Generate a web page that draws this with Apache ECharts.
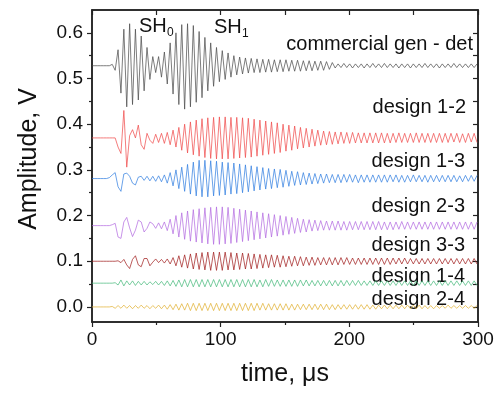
<!DOCTYPE html>
<html>
<head>
<meta charset="utf-8">
<title>Amplitude vs time</title>
<script src="https://cdn.jsdelivr.net/npm/echarts@6/dist/echarts.min.js"></script>
<style>
  html, body { margin: 0; padding: 0; background: #fff; }
  #chart { width: 500px; height: 394px; }
</style>
</head>
<body>
<div id="chart"></div>
<script>
// sample step of the traces, µs (sample i is at i * timeStep)
const timeStep = 2.25

// trace names, baselines (V) and colours
const traceNames = ['commercial gen - det', 'design 1-2', 'design 1-3', 'design 2-3', 'design 3-3', 'design 1-4', 'design 2-4']
const baselines = [0.528, 0.370, 0.281, 0.178, 0.100, 0.052, 0.000]
const colors = ['#4a4a4a', '#f04848', '#2f7ee0', '#b36ae0', '#a01c1c', '#45b97a', '#e0b030']

// deviation from baseline, mV
const commercial = [
  0, 0, 0, 0, 0, 0, 0, 3, -10, 35,
  -60, 80, -90, 92, -85, 80, -75, 65, -55, 40,
  -30, 20, -15, 20, -25, 30, -40, 50, -62, 72,
  -85, 90, -95, 92, -90, 88, -80, 75, -70, 62,
  -55, 50, -45, 40, -35, 33, -30, 28, -25, 22,
  -20, 19, -18, 17, -16, 16, -15, 15, -15, 14,
  -14, 14, -14, 13, -13, 13, -13, 13, -12, 12,
  -12, 12, -12, 11, -11, 11, -11, 10, -10, 10,
  -10, 9, -8, 7, -5, 4, -4, 5, -4, 4,
  -5, 4, -4, 4, -5, 4, -4, 5, -4, 4,
  -4, 5, -4, 4, -4, 4, -5, 4, -4, 4,
  -5, 4, -4, 4, -4, 5, -4, 4, -4, 4,
  -5, 4, -4, 4, -4, 5, -4, 4, -4, 4,
  -4, 4, -4, 4
]
const design12 = [
  0, 0, 0, 0, 0, 0, 0, 0, 0, -20,
  -34, 60, -64, 5, 18, 0, 28, -15, -25, 10,
  -5, -12, 8, -10, 10, -12, 12, -15, 17, -20,
  23, -27, 30, -33, 35, -37, 39, -40, 42, -43,
  44, -45, 45, -46, 46, -46, 46, -46, 45, -45,
  45, -44, 44, -43, 43, -42, 41, -40, 39, -38,
  37, -36, 35, -34, 33, -32, 30, -29, 28, -27,
  26, -24, 23, -22, 21, -20, 19, -18, 17, -16,
  15, -15, 14, -14, 13, -13, 13, -12, 12, -12,
  12, -11, 11, -11, 11, -11, 11, -11, 11, -11,
  11, -11, 10, -11, 10, -10, 11, -10, 10, -10,
  10, -10, 11, -10, 10, -10, 10, -10, 10, -10,
  10, -10, 10, -10, 10, -9, 10, -10, 9, -10,
  10, -9, 10, -10
]
const design13 = [
  0, 0, 0, 0, 0, 0, 2, 8, 13, -18,
  -28, 10, 12, 5, -10, -14, 3, 5, -4, 5,
  -5, 5, -6, 6, -7, 8, -10, 13, -16, 19,
  -22, 25, -28, 31, -34, 36, -38, 40, -40, 40,
  -40, 39, -38, 38, -37, 36, -36, 35, -34, 34,
  -33, 32, -31, 30, -29, 28, -27, 26, -25, 24,
  -23, 22, -22, 21, -20, 20, -19, 18, -17, 16,
  -15, 15, -14, 13, -13, 12, -12, 11, -11, 10,
  -10, 10, -9, 9, -9, 9, -9, 9, -8, 9,
  -8, 8, -9, 8, -8, 8, -8, 8, -8, 8,
  -8, 8, -8, 8, -7, 8, -8, 7, -8, 7,
  -7, 8, -7, 7, -7, 7, -8, 7, -7, 7,
  -7, 7, -7, 7, -7, 7, -7, 6, -7, 7,
  -6, 7, -6, 7
]
const design23 = [
  0, 0, 0, 0, 0, 0, 0, 2, 5, -25,
  -28, 8, 18, -5, -24, -10, 12, 8, -14, -6,
  8, 4, -6, 6, -7, 8, -11, 14, -18, 22,
  -25, 28, -30, 32, -34, 35, -36, 37, -38, 39,
  -40, 40, -41, 41, -41, 41, -40, 40, -39, 38,
  -37, 36, -35, 34, -33, 32, -31, 30, -29, 28,
  -27, 26, -25, 24, -23, 22, -21, 20, -19, 18,
  -17, 16, -15, 14, -14, 13, -12, 12, -11, 11,
  -10, 10, -10, 10, -10, 10, -10, 9, -10, 9,
  -9, 9, -9, 9, -9, 9, -9, 9, -9, 9,
  -9, 8, -9, 8, -9, 8, -8, 9, -8, 8,
  -8, 8, -8, 8, -8, 8, -8, 8, -8, 8,
  -8, 8, -8, 8, -8, 8, -8, 8, -8, 8,
  -8, 8, -8, 8
]
const design33 = [
  0, 0, 0, 0, 0, 0, 0, 0, 0, 1,
  -3, 4, -8, -16, 4, 12, -8, -12, 6, 6,
  -10, -2, 5, -3, 4, -4, 5, -6, 8, -10,
  12, -13, 14, -15, 16, -17, 18, -18, 19, -19,
  20, -20, 20, -20, 20, -20, 20, -19, 19, -19,
  18, -18, 18, -17, 17, -17, 16, -16, 15, -15,
  14, -14, 14, -13, 13, -13, 12, -12, 11, -11,
  11, -10, 10, -10, 9, -9, 9, -9, 8, -8,
  8, -8, 8, -8, 8, -8, 8, -7, 8, -7,
  7, -7, 7, -7, 7, -7, 7, -7, 7, -7,
  7, -7, 7, -7, 7, -6, 7, -6, 7, -6,
  6, -6, 6, -6, 6, -6, 6, -6, 6, -6,
  6, -6, 6, -6, 6, -6, 6, -6, 6, -6,
  6, -6, 6, -6
]
const design14 = [
  0, 0, 0, 0, 0, 0, 0, 0, 1, -4,
  7, -6, 5, -4, 5, -5, 4, -4, 4, -4,
  3, -3, 4, -4, 4, -5, 5, -6, 6, -7,
  7, -8, 8, -8, 8, -8, 8, -8, 8, -8,
  8, -8, 8, -8, 8, -8, 8, -8, 8, -8,
  8, -8, 8, -8, 8, -8, 8, -8, 7, -8,
  8, -7, 8, -7, 7, -7, 7, -7, 7, -7,
  7, -7, 7, -6, 7, -6, 6, -6, 6, -6,
  6, -6, 6, -6, 6, -6, 6, -6, 6, -5,
  6, -5, 6, -5, 5, -5, 5, -5, 5, -5,
  5, -5, 5, -5, 5, -5, 5, -5, 5, -5,
  5, -5, 5, -5, 5, -5, 5, -5, 5, -5,
  5, -5, 5, -5, 5, -5, 5, -5, 5, -5,
  5, -5, 5, -5
]
const design24 = [
  0, 0, 0, 0, 0, 0, 0, 1, -3, 3,
  -3, 4, -3, 3, -4, 3, -3, 4, -3, 3,
  -4, 3, -3, 4, -4, 4, -5, 5, -6, 6,
  -7, 7, -7, 8, -8, 8, -8, 8, -8, 8,
  -8, 8, -8, 8, -8, 8, -8, 8, -8, 8,
  -8, 8, -8, 8, -8, 8, -8, 8, -7, 8,
  -7, 7, -7, 7, -7, 7, -7, 7, -7, 6,
  -7, 6, -6, 6, -6, 6, -6, 6, -6, 6,
  -6, 6, -6, 5, -6, 5, -5, 5, -5, 5,
  -5, 5, -5, 5, -5, 5, -5, 4, -5, 4,
  -4, 4, -4, 4, -4, 4, -4, 4, -4, 4,
  -4, 4, -4, 4, -4, 3, -4, 3, -4, 3,
  -3, 3, -3, 4, -3, 3, -3, 3, -3, 3,
  -3, 3, -3, 3
]
const traces = [commercial, design12, design13, design23, design33, design14, design24]

// axis ticks
const yMajorTicks = [0, 0.1, 0.2, 0.3, 0.4, 0.5, 0.6]
const yMinorTicks = [0.05, 0.15, 0.25, 0.35, 0.45, 0.55]
const yRightTicks = [0, 0.05, 0.1, 0.15, 0.2, 0.25, 0.3, 0.35, 0.4, 0.45, 0.5, 0.55, 0.6]

// label anchors (px): right edge and vertical centre
const labelX = [473, 466, 465, 465, 465, 465, 465]
const labelY = [44, 107, 161, 206, 245, 276, 299]

const fontFamily = '"Liberation Sans", Arial, sans-serif'
const axisColor = '#222'
const yMin = -0.033
const yMax = 0.65

const chart = echarts.init(document.getElementById('chart'), null, { renderer: 'canvas' })

const series = traces.map((dev, k) => ({
  name: traceNames[k],
  type: 'line',
  xAxisIndex: 0,
  yAxisIndex: 0,
  showSymbol: false,
  symbol: 'none',
  silent: true,
  lineStyle: { color: colors[k], width: 0.9, opacity: 0.8 },
  data: dev.map((d, i) => [i * timeStep, +(baselines[k] + d / 1000).toFixed(4)])
}))

const labels = traceNames.map((name, k) => ({
  type: 'text',
  x: labelX[k],
  y: labelY[k],
  style: {
    text: name,
    font: '20px ' + fontFamily,
    fill: '#111',
    align: 'right',
    verticalAlign: 'middle'
  }
}))

function subText(x, y, text, size) {
  return {
    type: 'text',
    x: x,
    y: y,
    style: { text: text, font: size + 'px ' + fontFamily, fill: '#111', align: 'left', verticalAlign: 'middle' }
  }
}

chart.setOption({
  animation: false,
  backgroundColor: '#fff',
  grid: {
    left: 92, right: 22, top: 10, bottom: 72, containLabel: false,
    show: true, borderColor: axisColor, borderWidth: 1.5, backgroundColor: 'transparent'
  },
  xAxis: [{
    type: 'value',
    position: 'bottom',
    min: 0,
    max: 300,
    interval: 100,
    name: 'time, μs',
    nameLocation: 'middle',
    nameGap: 40,
    nameTextStyle: { fontSize: 25, fontFamily: fontFamily, color: '#111' },
    axisLine: { show: true, onZero: false, lineStyle: { color: axisColor, width: 1.5 } },
    axisTick: { show: true, inside: false, length: 5, lineStyle: { color: axisColor, width: 1.2 } },
    minorTick: { show: true, splitNumber: 2, length: 3, lineStyle: { color: axisColor, width: 1.2 } },
    axisLabel: { fontSize: 19, fontFamily: fontFamily, color: '#111', margin: 8 },
    splitLine: { show: false },
    minorSplitLine: { show: false }
  }, {
    type: 'value',
    position: 'top',
    min: 0,
    max: 300,
    interval: 50,
    axisLine: { show: true, onZero: false, lineStyle: { color: axisColor, width: 1.5 } },
    axisTick: { show: true, inside: true, length: 5, lineStyle: { color: axisColor, width: 1.2 } },
    axisLabel: { show: false },
    splitLine: { show: false }
  }],
  yAxis: [{
    type: 'value',
    position: 'left',
    min: yMin,
    max: yMax,
    name: 'Amplitude, V',
    nameLocation: 'middle',
    nameGap: 50,
    nameTextStyle: { fontSize: 25, fontFamily: fontFamily, color: '#111', padding: [0, 0, 0, 14] },
    axisLine: { show: true, onZero: false, lineStyle: { color: axisColor, width: 1.5 } },
    axisTick: { show: true, inside: false, length: 5, customValues: yMajorTicks, lineStyle: { color: axisColor, width: 1.2 } },
    axisLabel: {
      fontSize: 19,
      fontFamily: fontFamily,
      color: '#111',
      margin: 9,
      customValues: yMajorTicks,
      formatter: v => v.toFixed(1)
    },
    splitLine: { show: false }
  }, {
    type: 'value',
    position: 'left',
    min: yMin,
    max: yMax,
    axisLine: { show: false, onZero: false },
    axisTick: { show: true, inside: false, length: 3, customValues: yMinorTicks, lineStyle: { color: axisColor, width: 1.2 } },
    axisLabel: { show: false },
    splitLine: { show: false }
  }, {
    type: 'value',
    position: 'right',
    min: yMin,
    max: yMax,
    axisLine: { show: true, onZero: false, lineStyle: { color: axisColor, width: 1.5 } },
    axisTick: { show: true, inside: true, length: 5, customValues: yRightTicks, lineStyle: { color: axisColor, width: 1.2 } },
    axisLabel: { show: false },
    splitLine: { show: false }
  }],
  series: series,
  graphic: labels.concat([
    subText(139, 26, 'SH', 20),
    subText(167, 33, '0', 12),
    subText(214, 27, 'SH', 20),
    subText(242, 34, '1', 12)
  ])
})
</script>
</body>
</html>
